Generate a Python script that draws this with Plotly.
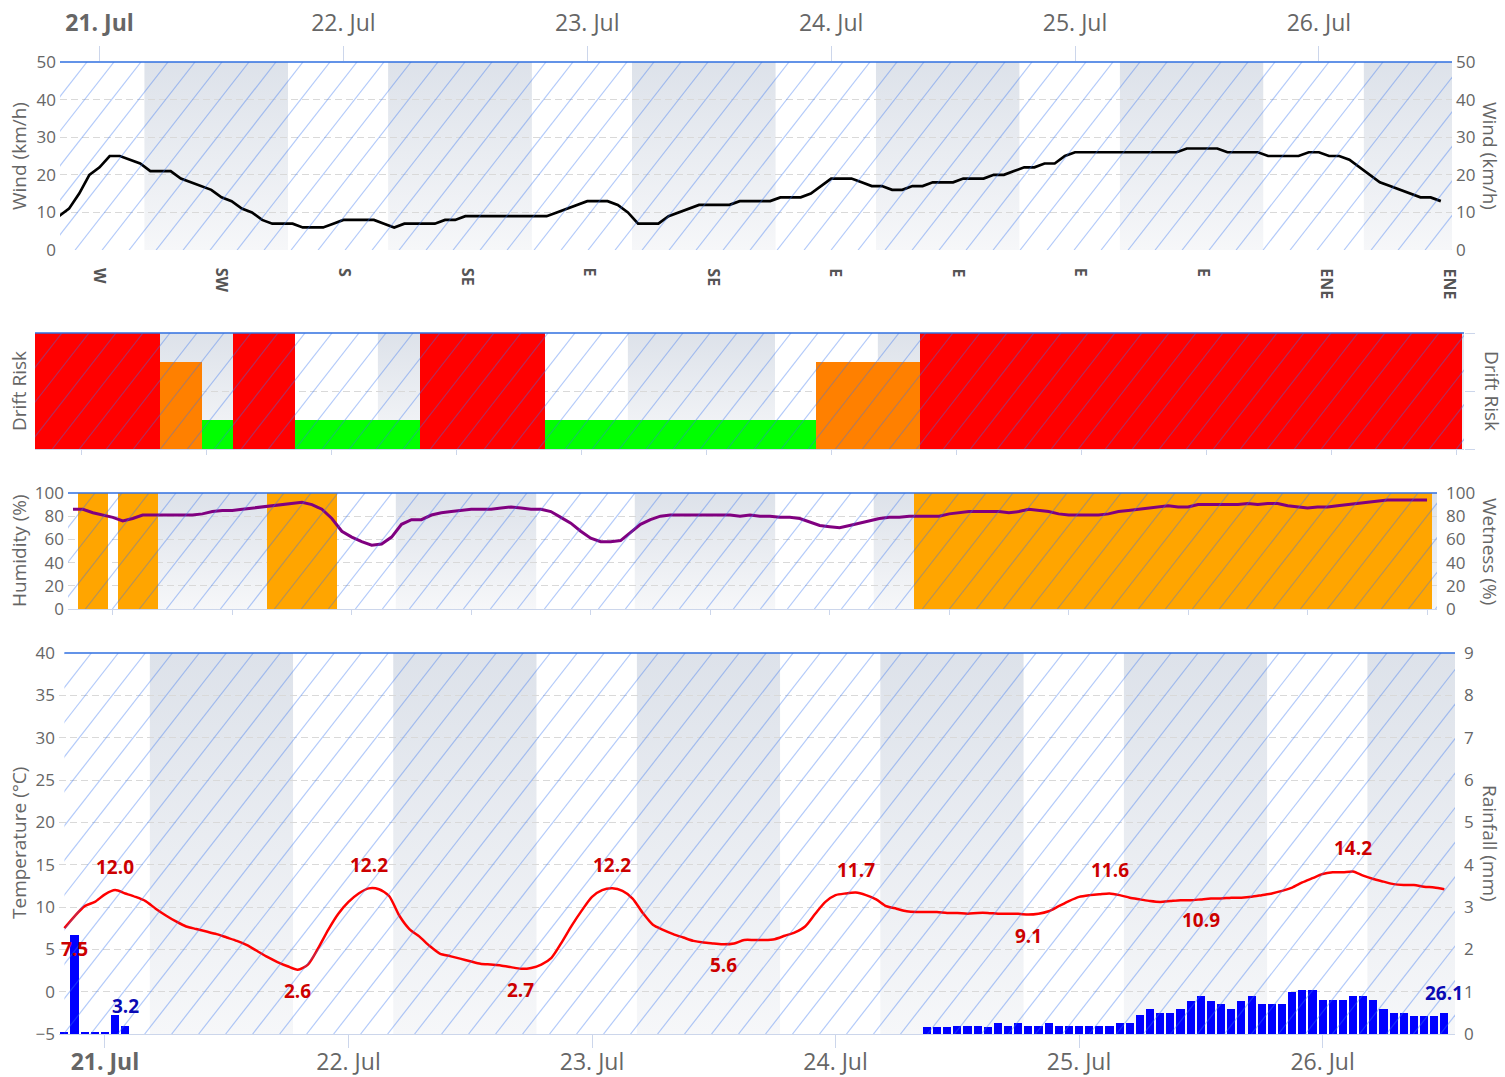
import math
import base64
import plotly.graph_objects as go

W, H = 1505, 1077
FONT = "Open Sans"
GREY = "#666666"
GRID = "#d9d9d9"
AXLINE = "#ccd6eb"
TOPLINE = "#2f6fe0"

# ---------------- data (hourly, hours relative to 21 Jul 00:00) ----------------
hours = list(range(-4, 133))

day_ticks = [0, 24, 48, 72, 96, 120]
day_labels = ["21. Jul", "22. Jul", "23. Jul", "24. Jul", "25. Jul", "26. Jul"]
half_day_ticks = [0, 12, 24, 36, 48, 60, 72, 84, 96, 108, 120, 132]

night_start = [4.4, 28.4, 52.4, 76.4, 100.4, 124.4]
night_end = [18.55, 42.55, 66.55, 90.55, 114.55, 138.55]

wind = [
    9, 11, 15, 20, 22, 25, 25, 24, 23, 21, 21, 21,
    19, 18, 17, 16, 14, 13, 11, 10, 8, 7, 7, 7,
    6, 6, 6, 7, 8, 8, 8, 8, 7, 6, 7, 7,
    7, 7, 8, 8, 9, 9, 9, 9, 9, 9, 9, 9,
    9, 10, 11, 12, 13, 13, 13, 12, 10, 7, 7, 7,
    9, 10, 11, 12, 12, 12, 12, 13, 13, 13, 13, 14,
    14, 14, 15, 17, 19, 19, 19, 18, 17, 17, 16, 16,
    17, 17, 18, 18, 18, 19, 19, 19, 20, 20, 21, 22,
    22, 23, 23, 25, 26, 26, 26, 26, 26, 26, 26, 26,
    26, 26, 26, 27, 27, 27, 27, 26, 26, 26, 26, 25,
    25, 25, 25, 26, 26, 25, 25, 24, 22, 20, 18, 17,
    16, 15, 14, 14, 13,
]

wind_dir = ["W", "SW", "S", "SE", "E", "SE", "E", "E", "E", "E", "ENE", "ENE"]

drift = [
    4, 4, 4, 4, 4, 4, 4, 4, 4, 4, 4, 4,
    3, 3, 3, 3, 1, 1, 1, 4, 4, 4, 4, 4,
    4, 1, 1, 1, 1, 1, 1, 1, 1, 1, 1, 1,
    1, 4, 4, 4, 4, 4, 4, 4, 4, 4, 4, 4,
    4, 1, 1, 1, 1, 1, 1, 1, 1, 1, 1, 1,
    1, 1, 1, 1, 1, 1, 1, 1, 1, 1, 1, 1,
    1, 1, 1, 3, 3, 3, 3, 3, 3, 3, 3, 3,
    3, 4, 4, 4, 4, 4, 4, 4, 4, 4, 4, 4,
    4, 4, 4, 4, 4, 4, 4, 4, 4, 4, 4, 4,
    4, 4, 4, 4, 4, 4, 4, 4, 4, 4, 4, 4,
    4, 4, 4, 4, 4, 4, 4, 4, 4, 4, 4, 4,
    4, 4, 4, 4, 4,
]
drift_colors = {1: "#00ff00", 3: "#ff8000", 4: "#ff0000"}

humidity = [
    86, 86, 83, 81, 79, 76, 78, 81, 81, 81, 81, 81,
    81, 82, 84, 85, 85, 86, 87, 88, 89, 90, 91, 92,
    90, 86, 78, 67, 62, 58, 55, 56, 62, 73, 77, 77,
    81, 83, 84, 85, 86, 86, 86, 87, 88, 87, 86, 86,
    84, 79, 74, 67, 61, 58, 58, 59, 66, 73, 77, 80,
    81, 81, 81, 81, 81, 81, 81, 80, 81, 80, 80, 79,
    79, 78, 75, 72, 71, 70, 72, 74, 76, 78, 79, 79,
    80, 80, 80, 80, 82, 83, 84, 84, 84, 84, 83, 84,
    86, 85, 84, 82, 81, 81, 81, 81, 82, 84, 85, 86,
    87, 88, 89, 88, 88, 90, 90, 90, 90, 90, 91, 90,
    91, 91, 89, 88, 87, 88, 88, 89, 90, 91, 92, 93,
    94, 94, 94, 94, 94,
]

wetness = [
    0, 100, 100, 100, 0, 100, 100, 100, 100, 0, 0, 0,
    0, 0, 0, 0, 0, 0, 0, 0, 100, 100, 100, 100,
    100, 100, 100, 0, 0, 0, 0, 0, 0, 0, 0, 0,
    0, 0, 0, 0, 0, 0, 0, 0, 0, 0, 0, 0,
    0, 0, 0, 0, 0, 0, 0, 0, 0, 0, 0, 0,
    0, 0, 0, 0, 0, 0, 0, 0, 0, 0, 0, 0,
    0, 0, 0, 0, 0, 0, 0, 0, 0, 0, 0, 0,
    0, 100, 100, 100, 100, 100, 100, 100, 100, 100, 100, 100,
    100, 100, 100, 100, 100, 100, 100, 100, 100, 100, 100, 100,
    100, 100, 100, 100, 100, 100, 100, 100, 100, 100, 100, 100,
    100, 100, 100, 100, 100, 100, 100, 100, 100, 100, 100, 100,
    100, 100, 100, 100, 100,
]

temperature = [
    7.5, 8.9, 10.1, 10.6, 11.5, 12.0, 11.6, 11.2, 10.7, 9.8, 9.0, 8.3,
    7.7, 7.4, 7.1, 6.8, 6.4, 6.0, 5.5, 4.8, 4.1, 3.5, 3.0, 2.6,
    3.2, 5.1, 7.3, 9.2, 10.6, 11.6, 12.2, 12.1, 11.3, 9.0, 7.4, 6.5,
    5.4, 4.5, 4.2, 3.9, 3.6, 3.3, 3.2, 3.1, 2.9, 2.7, 2.8, 3.2,
    4.0, 5.8, 7.8, 9.6, 11.2, 12.0, 12.2, 11.9, 11.0, 9.3, 7.9, 7.3,
    6.8, 6.4, 6.0, 5.8, 5.7, 5.6, 5.7, 6.1, 6.1, 6.1, 6.2, 6.6,
    7.0, 7.7, 9.2, 10.6, 11.4, 11.6, 11.7, 11.4, 10.9, 10.1, 9.8, 9.5,
    9.4, 9.4, 9.4, 9.3, 9.3, 9.2, 9.3, 9.3, 9.2, 9.2, 9.2, 9.1,
    9.2, 9.5, 10.1, 10.7, 11.2, 11.4, 11.5, 11.6, 11.4, 11.1, 10.9, 10.7,
    10.6, 10.7, 10.8, 10.8, 10.9, 11.0, 11.0, 11.1, 11.1, 11.2, 11.4, 11.6,
    11.9, 12.3, 12.9, 13.4, 13.9, 14.1, 14.1, 14.2, 13.7, 13.3, 13.0, 12.7,
    12.6, 12.6, 12.4, 12.3, 12.1,
]
temp_label_hours = [-4, 1, 19, 26, 41, 50, 61, 74, 91, 99, 108, 123]
temp_label_side = ["below", "above", "below", "above", "below", "above",
                   "below", "above", "below", "above", "below", "above"]

rain = [
    0.05, 2.35, 0.05, 0.05, 0.05, 0.45, 0.2, 0, 0, 0, 0, 0,
    0, 0, 0, 0, 0, 0, 0, 0, 0, 0, 0, 0,
    0, 0, 0, 0, 0, 0, 0, 0, 0, 0, 0, 0,
    0, 0, 0, 0, 0, 0, 0, 0, 0, 0, 0, 0,
    0, 0, 0, 0, 0, 0, 0, 0, 0, 0, 0, 0,
    0, 0, 0, 0, 0, 0, 0, 0, 0, 0, 0, 0,
    0, 0, 0, 0, 0, 0, 0, 0, 0, 0, 0, 0,
    0, 0.17, 0.17, 0.17, 0.2, 0.2, 0.2, 0.17, 0.27, 0.2, 0.27, 0.2,
    0.2, 0.27, 0.2, 0.2, 0.2, 0.2, 0.2, 0.2, 0.27, 0.27, 0.46, 0.6,
    0.5, 0.5, 0.6, 0.78, 0.89, 0.78, 0.71, 0.6, 0.78, 0.89, 0.71, 0.71,
    0.71, 1.0, 1.03, 1.03, 0.81, 0.81, 0.81, 0.89, 0.89, 0.81, 0.6, 0.5,
    0.5, 0.42, 0.42, 0.42, 0.5,
]
rain_label_hours = [2, 132]

# ---------------- geometry (pixels) ----------------
panels = {
    "wind":  dict(x0=60, x1=1452, y0=62,  y1=250,  xr=[-3.89, 133.1]),
    "drift": dict(x0=35, x1=1464, y0=333, y1=449,  xr=[-4.5, 132.7]),
    "hum":   dict(x0=68, x1=1437, y0=493, y1=609,  xr=[-4.5, 133.0]),
    "temp":  dict(x0=59, x1=1455, y0=653, y1=1034, xr=[-4.53, 133.05]),
}
# wind-direction label strip (pixels): first / last label centres
DIR_X0, DIR_X1, DIR_Y = 100, 1450, 266


def xd(p):
    return [p["x0"] / W, p["x1"] / W]


def yd(p):
    return [1 - p["y1"] / H, 1 - p["y0"] / H]


def svg_uri(svg):
    return "data:image/svg+xml;base64," + base64.b64encode(svg.encode()).decode()


def hatch_svg(w, h, angle=52, spacing=27, color="rgb(55,115,240)", opacity=0.38, width=1.2):
    t = math.tan(math.radians(angle))
    run = h / t
    parts = []
    x = -run
    while x < w + spacing:
        parts.append(f'<line x1="{x:.2f}" y1="{h}" x2="{x + run:.2f}" y2="0"/>')
        x += spacing
    return (f'<svg xmlns="http://www.w3.org/2000/svg" width="{w}" height="{h}" '
            f'viewBox="0 0 {w} {h}" preserveAspectRatio="none">'
            f'<g stroke="{color}" stroke-opacity="{opacity}" stroke-width="{width}">'
            + "".join(parts) + "</g></svg>")


GRAD_SVG = ('<svg xmlns="http://www.w3.org/2000/svg" width="10" height="100" viewBox="0 0 10 100" '
            'preserveAspectRatio="none"><defs><linearGradient id="g" x1="0" y1="0" x2="0" y2="1">'
            '<stop offset="0" stop-color="#dde2ea"/><stop offset="1" stop-color="#f6f7f9"/>'
            '</linearGradient></defs><rect width="10" height="100" fill="url(#g)"/></svg>')

fig = go.Figure()

# ---------------- traces ----------------
fig.add_trace(go.Scatter(x=hours, y=wind, xaxis="x", yaxis="y", mode="lines",
                         line=dict(color="#000000", width=2.7), hoverinfo="skip"))
fig.add_trace(go.Scatter(x=[hours[0]], y=[wind[0]], xaxis="x", yaxis="y2", mode="markers",
                         marker=dict(opacity=0), hoverinfo="skip"))

fig.add_trace(go.Bar(x=hours, y=drift, xaxis="x2", yaxis="y3", width=1,
                     marker=dict(color=[drift_colors[v] for v in drift], line=dict(width=0)),
                     hoverinfo="skip"))
fig.add_trace(go.Scatter(x=[hours[0]], y=[0], xaxis="x2", yaxis="y4", mode="markers",
                         marker=dict(opacity=0), hoverinfo="skip"))

fig.add_trace(go.Bar(x=hours, y=wetness, xaxis="x3", yaxis="y5", width=1,
                     marker=dict(color="#ffa500", line=dict(width=0)), hoverinfo="skip"))
fig.add_trace(go.Scatter(x=hours, y=humidity, xaxis="x3", yaxis="y6", mode="lines",
                         line=dict(color="#800080", width=3), hoverinfo="skip"))

fig.add_trace(go.Bar(x=hours, y=rain, xaxis="x4", yaxis="y7", width=0.8,
                     marker=dict(color="#0000ff", line=dict(width=0)), hoverinfo="skip"))
fig.add_trace(go.Scatter(x=hours, y=temperature, xaxis="x4", yaxis="y8", mode="lines",
                         line=dict(color="#ff0000", width=2.5, shape="spline", smoothing=0.7),
                         hoverinfo="skip"))

# ---------------- axes ----------------
tickfont = dict(family=FONT, size=17, color=GREY)
dayfont = dict(family=FONT, size=23, color=GREY)
day_text = ["<b>" + day_labels[0] + "</b>"] + day_labels[1:]

pw, pdr, ph, pt = panels["wind"], panels["drift"], panels["hum"], panels["temp"]

fig.update_layout(
    xaxis=dict(domain=xd(pw), range=pw["xr"], anchor="y", side="top",
               tickmode="array", tickvals=day_ticks, ticktext=day_text,
               ticks="outside", ticklen=15, tickcolor=AXLINE, tickfont=dayfont,
               ticklabelstandoff=6, showline=False, showgrid=False, zeroline=False),
    yaxis=dict(domain=yd(pw), range=[0, 50], anchor="x", tickvals=[0, 10, 20, 30, 40, 50],
               showgrid=True, gridcolor=GRID, griddash="7px,4px", zeroline=False,
               tickfont=tickfont, ticks="", ticklabelstandoff=3),
    yaxis2=dict(overlaying="y", side="right", anchor="x", range=[0, 50],
                tickvals=[0, 10, 20, 30, 40, 50], showgrid=False, zeroline=False,
                tickfont=tickfont, ticks="", ticklabelstandoff=3),

    xaxis2=dict(domain=xd(pdr), range=pdr["xr"], anchor="y3", tickvals=half_day_ticks,
                showticklabels=False, ticks="outside", ticklen=5, tickcolor=AXLINE,
                showline=True, linecolor=AXLINE, linewidth=1, showgrid=False, zeroline=False),
    yaxis3=dict(domain=yd(pdr), range=[0, 4], anchor="x2", tickvals=[0, 2, 4],
                showticklabels=False, showgrid=True, gridcolor=GRID, griddash="7px,4px",
                zeroline=False, ticks=""),
    yaxis4=dict(overlaying="y3", side="right", anchor="x2", range=[0, 4], tickvals=[0, 2, 4],
                showticklabels=False, showgrid=False, zeroline=False, ticks="outside",
                ticklen=10, tickcolor=AXLINE),

    xaxis3=dict(domain=xd(ph), range=ph["xr"], anchor="y5", tickvals=half_day_ticks,
                showticklabels=False, ticks="outside", ticklen=5, tickcolor=AXLINE,
                showline=True, linecolor=AXLINE, linewidth=1, showgrid=False, zeroline=False),
    yaxis5=dict(domain=yd(ph), range=[0, 100], anchor="x3", side="right",
                tickvals=[0, 20, 40, 60, 80, 100], showgrid=False, zeroline=False,
                tickfont=tickfont, ticks="", ticklabelstandoff=8),
    yaxis6=dict(overlaying="y5", side="left", anchor="x3", range=[0, 100],
                tickvals=[0, 20, 40, 60, 80, 100], showgrid=True, gridcolor=GRID,
                griddash="7px,4px", zeroline=False, tickfont=tickfont, ticks="",
                ticklabelstandoff=3),

    xaxis4=dict(domain=xd(pt), range=pt["xr"], anchor="y7", side="bottom",
                tickmode="array", tickvals=day_ticks, ticktext=day_text,
                ticks="outside", ticklen=13, tickcolor=AXLINE, tickfont=dayfont,
                ticklabelstandoff=-6, showline=True, linecolor=AXLINE, linewidth=1,
                showgrid=False, zeroline=False),
    yaxis7=dict(domain=yd(pt), range=[0, 9], anchor="x4", side="right",
                tickvals=list(range(0, 10)), showgrid=False, zeroline=False,
                tickfont=tickfont, ticks="", ticklabelstandoff=8),
    yaxis8=dict(overlaying="y7", side="left", anchor="x4", range=[-5, 40],
                tickvals=list(range(-5, 41, 5)), showgrid=True, gridcolor=GRID,
                griddash="7px,4px", zeroline=False, tickfont=tickfont, ticks="",
                ticklabelstandoff=3),
)

# ---------------- night bands (gradient) & hatch overlay ----------------
images = []
grad = svg_uri(GRAD_SVG)
band_refs = [("wind", "x", "y"), ("drift", "x2", "y3"), ("hum", "x3", "y5"), ("temp", "x4", "y7")]
for name, xr_, yr_ in band_refs:
    p = panels[name]
    lo, hi = p["xr"]
    for s, e in zip(night_start, night_end):
        s2, e2 = max(s, lo), min(e, hi)
        if e2 <= s2:
            continue
        images.append(dict(source=grad, xref=xr_, yref=yr_ + " domain", x=s2, y=1,
                           sizex=e2 - s2, sizey=1, sizing="stretch", xanchor="left",
                           yanchor="top", layer="below"))

hatch_extent = {"wind": None, "drift": None, "hum": None, "temp": -4}
for name, p in panels.items():
    x0 = p["x0"]
    if hatch_extent[name] is not None:
        lo, hi = p["xr"]
        x0 = p["x0"] + (hatch_extent[name] - lo) / (hi - lo) * (p["x1"] - p["x0"])
    w = p["x1"] - x0
    h = p["y1"] - p["y0"]
    images.append(dict(source=svg_uri(hatch_svg(round(w), h)), xref="paper", yref="paper",
                       x=x0 / W, y=1 - p["y0"] / H, sizex=w / W, sizey=h / H,
                       sizing="stretch", xanchor="left", yanchor="top", layer="above"))
fig.update_layout(images=images)

# ---------------- top blue lines ----------------
shapes = []
for name, xr_, yr_ in band_refs:
    if name == "temp":
        shapes.append(dict(type="line", xref=xr_, yref=yr_ + " domain", x0=-4, x1=panels[name]["xr"][1],
                           y0=1, y1=1, line=dict(color=TOPLINE, width=1.5), layer="above"))
    else:
        shapes.append(dict(type="line", xref=xr_ + " domain", yref=yr_ + " domain", x0=0, x1=1,
                           y0=1, y1=1, line=dict(color=TOPLINE, width=1.5), layer="above"))
fig.update_layout(shapes=shapes)

# ---------------- annotations ----------------
ann = []
titlefont = dict(family=FONT, size=19, color=GREY)
titles = [("Wind (km/h)", 156, 19, -90), ("Wind (km/h)", 156, 1490, 90),
          ("Drift Risk", 391, 19, -90), ("Drift Risk", 391, 1492, 90),
          ("Humidity (%)", 551, 19, -90), ("Wetness (%)", 551, 1490, 90),
          ("Temperature (°C)", 843, 19, -90), ("Rainfall (mm)", 843, 1490, 90)]
for txt, ypx, xpx, ang in titles:
    ann.append(dict(text=txt, xref="paper", yref="paper", x=xpx / W, y=1 - ypx / H,
                    xanchor="center", yanchor="middle", textangle=ang, showarrow=False,
                    font=titlefont))

n_dir = len(wind_dir)
for i, d in enumerate(wind_dir):
    xpx = DIR_X0 + i * (DIR_X1 - DIR_X0) / (n_dir - 1)
    ann.append(dict(text="<b>" + d + "</b>", xref="paper", yref="paper", x=xpx / W,
                    y=1 - DIR_Y / H, xanchor="center", yanchor="top", textangle=90,
                    showarrow=False, font=dict(family=FONT, size=16, color="#555555")))

for hh, side in zip(temp_label_hours, temp_label_side):
    v = temperature[hours.index(hh)]
    first = hh == hours[0]
    ann.append(dict(text=f"<b>{v:.1f}</b>", xref="x4", yref="y8",
                    x=(pt["xr"][0] if first else hh), y=v,
                    yshift=(-21 if side == "below" else 23), showarrow=False,
                    xanchor=("left" if first else "center"), yanchor="middle",
                    font=dict(family=FONT, size=19, color="#cc0000")))

prev = 0
for hh in rain_label_hours:
    idx = hours.index(hh)
    total = sum(rain[prev:idx + 1])
    prev = idx + 1
    ann.append(dict(text=f"<b>{total:.1f}</b>", xref="x4", yref="y7", x=hh, y=rain[idx],
                    yshift=20, showarrow=False, xanchor="center", yanchor="middle",
                    font=dict(family=FONT, size=19, color="#0a0ab4")))

fig.update_layout(annotations=ann)

fig.update_layout(width=W, height=H,
                  margin=dict(l=0, r=0, t=0, b=0, pad=0, autoexpand=False),
                  paper_bgcolor="white", plot_bgcolor="rgba(0,0,0,0)",
                  showlegend=False, hovermode=False, bargap=0,
                  font=dict(family=FONT, color=GREY))

fig.write_html("out.html", config={"displayModeBar": False, "staticPlot": True},
               post_script="document.body.style.margin='0';document.body.style.overflow='hidden';")
